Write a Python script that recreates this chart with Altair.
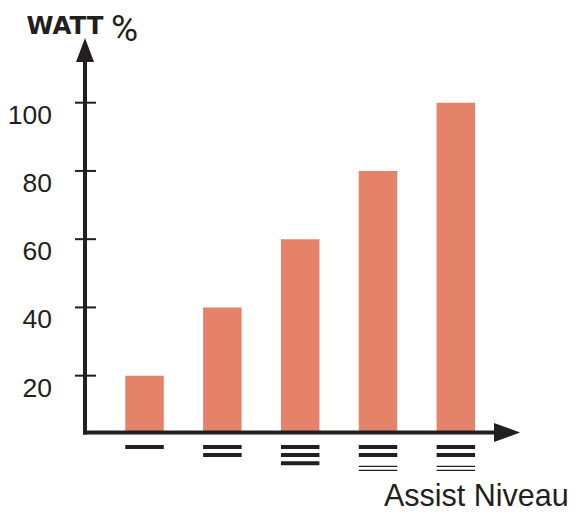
import altair as alt
import pandas as pd

# ---- data ----
levels = [1, 2, 3, 4, 5]
watt_pct = [20, 40, 60, 80, 100]
tick_values = [20, 40, 60, 80, 100]
thick_lines = [1, 2, 3, 2, 2]
thin_lines = [0, 0, 0, 2, 2]
y_title = "WATT"
y_unit = "%"
x_title = "Assist Niveau"

BAR = "#E4826A"
INK = "#231F20"

# ---- layout (pixels) ----
W, H = 560, 503
X_RANGE = [58.7, 447.85]   # pixel span for level 0..5
Y_RANGE = [435.9, 94.7]    # pixel span for 0..100 %
px_x = (X_RANGE[1] - X_RANGE[0]) / 5
px_y = (Y_RANGE[0] - Y_RANGE[1]) / 100


def xv(px):
    return (px - X_RANGE[0]) / px_x


def yv(px):
    return (Y_RANGE[0] - px) / px_y


xs = alt.Scale(domain=[0, 5], range=X_RANGE, nice=False, zero=False, padding=0)
ys = alt.Scale(domain=[0, 100], range=Y_RANGE, nice=False, zero=False, padding=0)

AXIS_X_PX = 77      # vertical axis line
AXIS_Y_PX = 424.5   # horizontal axis line
half_bar = 19.25 / px_x
base_val = yv(AXIS_Y_PX)

bars_df = pd.DataFrame({"level": levels, "watt": watt_pct})

bars = alt.Chart(bars_df).mark_bar(size=38.5, color=BAR).encode(
    x=alt.X("level:Q", scale=xs, axis=None),
    y=alt.Y("watt:Q", scale=ys, axis=None),
    y2=alt.Y2(datum=base_val),
)

# glyphs under each bar
rows = []
for lv, nk, nt in zip(levels, thick_lines, thin_lines):
    for k in range(nk):
        rows.append({"level": lv, "off": 14.5 + 8.1 * k, "w": 4.0})
    for k in range(nt):
        rows.append({"level": lv, "off": 33.8 + 4.0 * k, "w": 1.3})
gdf = pd.DataFrame(rows)
gdf["x0"] = gdf["level"] - half_bar
gdf["x1"] = gdf["level"] + half_bar
gdf["yy"] = [yv(AXIS_Y_PX + o) for o in gdf["off"]]

glyphs = alt.Chart(gdf).mark_rule(color=INK, strokeCap="butt").encode(
    x=alt.X("x0:Q", scale=xs, axis=None),
    x2="x1:Q",
    y=alt.Y("yy:Q", scale=ys, axis=None),
    strokeWidth=alt.StrokeWidth("w:Q", scale=None),
)

# tick marks crossing the y axis
tdf = pd.DataFrame({"v": tick_values})
tdf["x0"] = xv(67)
tdf["x1"] = xv(88)
ticks = alt.Chart(tdf).mark_rule(color=INK, strokeWidth=2, strokeCap="butt").encode(
    x=alt.X("x0:Q", scale=xs, axis=None),
    x2="x1:Q",
    y=alt.Y("v:Q", scale=ys, axis=None),
)

ldf = pd.DataFrame({"v": tick_values, "t": [str(v) for v in tick_values]})
ldf["lx"] = xv(44)
labels = alt.Chart(ldf).mark_text(
    align="right", baseline="middle", dy=13,
    font="Liberation Sans", fontSize=26.5, color=INK,
).encode(
    x=alt.X("lx:Q", scale=xs, axis=None),
    y=alt.Y("v:Q", scale=ys, axis=None),
    text="t:N",
)

# axis lines
adf = pd.DataFrame({
    "x0": [xv(AXIS_X_PX), xv(75)],
    "x1": [xv(AXIS_X_PX), xv(490)],
    "y0": [yv(426.5), yv(AXIS_Y_PX)],
    "y1": [yv(52), yv(AXIS_Y_PX)],
})
axes = alt.Chart(adf).mark_rule(color=INK, strokeWidth=4, strokeCap="butt").encode(
    x=alt.X("x0:Q", scale=xs, axis=None),
    x2="x1:Q",
    y=alt.Y("y0:Q", scale=ys, axis=None),
    y2="y1:Q",
)

# arrow heads
up_df = pd.DataFrame({"x": [xv(AXIS_X_PX)], "y": [yv(42)]})
arrow_up = alt.Chart(up_df).mark_point(
    shape="M0,-1L0.75,1L-0.75,1Z", size=576, filled=True,
    color=INK, opacity=1, strokeWidth=0,
).encode(
    x=alt.X("x:Q", scale=xs, axis=None),
    y=alt.Y("y:Q", scale=ys, axis=None),
)
right_df = pd.DataFrame({"x": [xv(499)], "y": [yv(AXIS_Y_PX)]})
arrow_right = alt.Chart(right_df).mark_point(
    shape="M1,0L-1,-0.73L-1,0.73Z", size=676, filled=True,
    color=INK, opacity=1, strokeWidth=0,
).encode(
    x=alt.X("x:Q", scale=xs, axis=None),
    y=alt.Y("y:Q", scale=ys, axis=None),
)

# titles
t_watt = alt.Chart(pd.DataFrame({"t": [y_title]})).mark_text(
    align="left", baseline="alphabetic", font="DejaVu Sans",
    fontWeight="bold", fontSize=24.5, color=INK,
).encode(x=alt.value(18.5), y=alt.value(25.5), text="t:N")

t_pct = alt.Chart(pd.DataFrame({"t": [y_unit]})).mark_text(
    align="left", baseline="alphabetic", font="Roboto",
    fontSize=37, color=INK,
).encode(x=alt.value(103), y=alt.value(32.5), text="t:N")

t_x = alt.Chart(pd.DataFrame({"t": [x_title]})).mark_text(
    align="left", baseline="alphabetic", font="Liberation Sans",
    fontSize=30.5, color=INK,
).encode(x=alt.value(376), y=alt.value(498), text="t:N")

chart = alt.layer(
    bars, glyphs, ticks, labels, axes, arrow_up, arrow_right, t_watt, t_pct, t_x
).properties(
    width=W, height=H, padding=0,
    autosize=alt.AutoSizeParams(type="none"),
    background="white",
).configure_view(strokeWidth=0)

chart.save("out.html", embed_options={"renderer": "svg", "actions": False})
